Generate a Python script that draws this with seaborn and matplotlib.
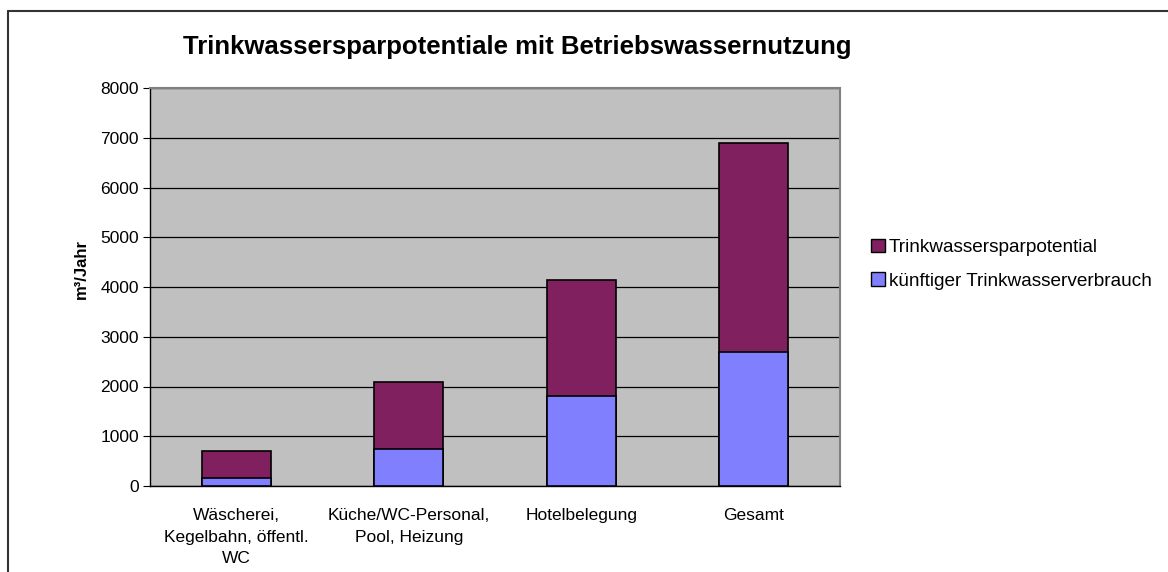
import matplotlib
matplotlib.use("Agg")
import matplotlib.pyplot as plt
import seaborn as sns
import pandas as pd
from matplotlib.patches import Patch
from matplotlib.lines import Line2D

categories = ["Wäscherei,\nKegelbahn, öffentl.\nWC", "Küche/WC-Personal,\nPool, Heizung",
              "Hotelbelegung", "Gesamt"]
kuenftig = [160, 740, 1800, 2700]
sparpotential = [540, 1360, 2340, 4200]
y_ticks = [0, 1000, 2000, 3000, 4000, 5000, 6000, 7000, 8000]

col_spar = "#80205F"
col_kuenftig = "#8080FF"

df = pd.DataFrame({"Kategorie": categories,
                   "kuenftig": kuenftig,
                   "gesamt": [a + b for a, b in zip(kuenftig, sparpotential)]})

sns.set_style("white")
plt.rcParams["font.family"] = ["Liberation Sans", "DejaVu Sans"]
plt.rcParams["text.color"] = "black"
plt.rcParams["axes.labelcolor"] = "black"
plt.rcParams["xtick.color"] = "black"
plt.rcParams["ytick.color"] = "black"

fig = plt.figure(figsize=(11.68, 5.72), dpi=100)
ax = fig.add_axes([150 / 1168, 1 - 486 / 572, 690 / 1168, 398 / 572])
ax.set_facecolor("#C0C0C0")

sns.barplot(data=df, x="Kategorie", y="gesamt", color=col_spar, width=0.4,
            edgecolor="black", linewidth=1.2, saturation=1, ax=ax, zorder=3)
sns.barplot(data=df, x="Kategorie", y="kuenftig", color=col_kuenftig, width=0.4,
            edgecolor="black", linewidth=1.2, saturation=1, ax=ax, zorder=4)

ax.set_ylim(0, 8000)
ax.set_xlim(-0.5, 3.5)
ax.set_yticks(y_ticks)
ax.set_yticklabels([str(t) for t in y_ticks], fontsize=12.5)
ax.yaxis.grid(True, color="black", linewidth=0.9, zorder=1)
ax.set_axisbelow(True)
ax.set_xlabel("")
ax.set_ylabel("m³/Jahr", fontsize=12, fontweight="bold")
ax.yaxis.set_label_coords(-0.089, 0.545)
ax.tick_params(axis="x", which="major", length=0, pad=16, labelsize=12.5)
for lbl in ax.get_xticklabels():
    lbl.set_linespacing(1.55)
ax.set_xticks([-0.5, 0.5, 1.5, 2.5, 3.5], minor=True)
ax.tick_params(axis="x", which="minor", length=5, direction="out", color="black")
ax.tick_params(axis="y", length=5, direction="out", color="black", left=True, pad=3)

for s in ["top", "right"]:
    ax.spines[s].set_color("#808080")
    ax.spines[s].set_linewidth(1.5)
for s in ["left", "bottom"]:
    ax.spines[s].set_color("black")
    ax.spines[s].set_linewidth(1)

fig.text(517 / 1168, 1 - 47 / 572, "Trinkwassersparpotentiale mit Betriebswassernutzung",
         ha="center", va="center", fontsize=18.5, fontweight="bold")

handles = [Patch(facecolor=col_spar, edgecolor="black", label="Trinkwassersparpotential"),
           Patch(facecolor=col_kuenftig, edgecolor="black", label="künftiger Trinkwasserverbrauch")]
fig.legend(handles=handles, loc="upper left", bbox_to_anchor=(861 / 1168, 1 - 229 / 572),
           frameon=False, fontsize=13.7, handlelength=0.75, handleheight=0.75,
           handletextpad=0.2, labelspacing=0.85, borderpad=0)

fig.add_artist(Line2D([8 / 1168, 1], [1 - 11 / 572, 1 - 11 / 572], color="#333333", linewidth=1.5,
                      transform=fig.transFigure))
fig.add_artist(Line2D([8 / 1168, 8 / 1168], [0, 1 - 11 / 572], color="#333333", linewidth=1.5,
                      transform=fig.transFigure))

fig.savefig("out.png", dpi=100)
